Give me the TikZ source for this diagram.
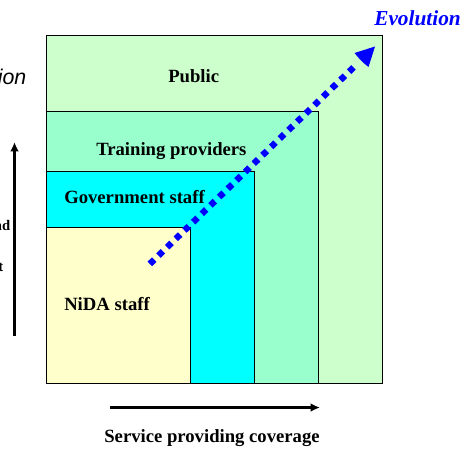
\documentclass[tikz,border=0pt]{standalone}
\usepackage{fontspec}
\setmainfont{Liberation Serif}
\setsansfont{Liberation Sans}
\usetikzlibrary{arrows.meta}
\definecolor{pub}{HTML}{CCFFCC}
\definecolor{train}{HTML}{99FFCC}
\definecolor{gov}{HTML}{00FFFF}
\definecolor{nida}{HTML}{FFFFCC}
\tikzset{
  x=0.75pt,y=-0.75pt,
  zone/.style={draw=black,line width=0.75pt},
  lbl/.style={font=\bfseries\fontsize{14}{16}\selectfont,text=black,inner sep=0pt,anchor=base west},
  axis/.style={draw=black,line width=1.6pt,-{Latex[length=7pt,width=6.5pt]}},
}
\begin{document}
\begin{tikzpicture}
\useasboundingbox (0,0) rectangle (463,450);
\clip (0,0) rectangle (463,450);
\path[zone,fill=pub] (46,35.5) rectangle (382,383);
\path[zone,fill=train] (46,111) rectangle (318.5,383);
\path[zone,fill=gov] (46,171) rectangle (254.5,383);
\path[zone,fill=nida] (46,227.5) rectangle (190.5,383);
\node[lbl] (public) at (168,82.5) {Public};
\node[lbl] (training) at (96,155) {Training providers};
\node[lbl] (govt) at (64,203) {Government staff};
\node[lbl] (nidalbl) at (64,310) {NiDA staff};
\node[lbl,anchor=base east,font=\sffamily\itshape\fontsize{16}{19}\selectfont] (cut) at (26.5,84) {ion};
\node[lbl,anchor=base east,font=\bfseries\fontsize{11}{13}\selectfont] (cutb) at (10.5,230) {nd};
\node[lbl,anchor=base east,font=\bfseries\fontsize{11}{13}\selectfont] (cutc) at (3.5,271.5) {t};
\node[lbl,text=blue,font=\bfseries\itshape\fontsize{16}{19}\selectfont] (evo) at (374,25.5) {Evolution};
\node[lbl,anchor=base,font=\bfseries\fontsize{14}{16}\selectfont] (spc) at (212,442.5) {Service providing coverage};
\coordinate (ev0) at (149.8,263.9);
\coordinate (ev1) at (353.6,67.3);
\coordinate (up0) at (14.5,336);
\coordinate (up1) at (14.5,142);
\coordinate (rt0) at (110,407.5);
\coordinate (rt1) at (320,407.5);
\draw[axis] (up0) -- (up1);
\draw[axis] (rt0) -- (rt1);
\draw[blue,line width=4.8pt,dash pattern=on 4.6pt off 4.43pt] (ev0) -- (ev1);
\fill[blue] (375,46.5) -- (354.5,53) -- (360,59.5) -- (363,62.5) -- (368.5,67) -- cycle;
\end{tikzpicture}
\end{document}
